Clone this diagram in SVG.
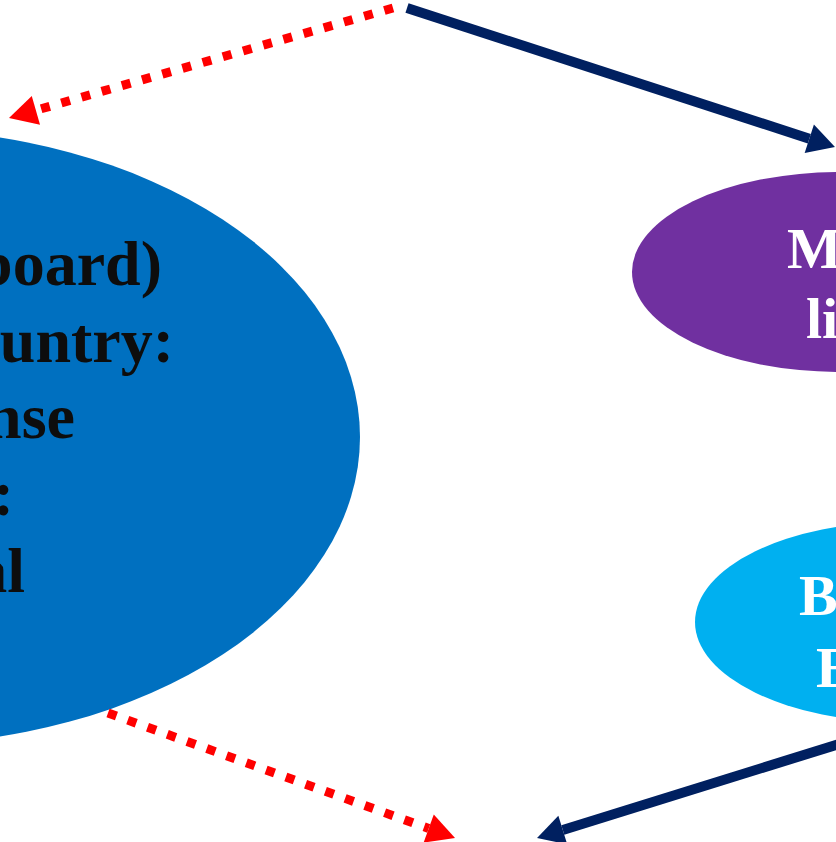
<svg xmlns="http://www.w3.org/2000/svg" width="836" height="842" viewBox="0 0 836 842">
<defs>
<style>
.lbl{font-family:"Liberation Serif","Times New Roman",serif;font-weight:bold}
.dark{fill:#0d0d0d;font-size:64px}
.white{fill:#ffffff;font-size:58px}
.solid{stroke:#002060;stroke-width:10;fill:none}
.dotted{stroke:#ff0000;stroke-width:9;stroke-dasharray:9 12;fill:none}
</style>
<marker id="headNavy" markerUnits="userSpaceOnUse" markerWidth="28" markerHeight="30" refX="0" refY="15" orient="auto" overflow="visible">
<path d="M0,0 L27,15 L0,30 Z" fill="#002060"/>
</marker>
<marker id="headRed" markerUnits="userSpaceOnUse" markerWidth="28" markerHeight="30" refX="0" refY="15" orient="auto" overflow="visible">
<path d="M0,0 L28,15 L0,30 Z" fill="#ff0000"/>
</marker>
</defs>
<rect width="836" height="842" fill="#ffffff"/>
<g id="node-blue">
<ellipse cx="-110" cy="437" rx="470" ry="308" fill="#0070c0"/>
<text class="lbl dark" text-anchor="end" x="162" y="285">board)</text>
<text class="lbl dark" text-anchor="end" x="174" y="362">ountry:</text>
<text class="lbl dark" text-anchor="end" x="75" y="438">nse</text>
<text class="lbl dark" text-anchor="end" x="14" y="515">:</text>
<text class="lbl dark" text-anchor="end" x="25" y="592">al</text>
</g>
<g id="node-purple">
<ellipse cx="840" cy="272" rx="208" ry="100" fill="#7030a0"/>
<text class="lbl white" x="787" y="268">M</text>
<text class="lbl white" x="806" y="338">li</text>
</g>
<g id="node-cyan">
<ellipse cx="901" cy="622" rx="206" ry="100" fill="#00b0f0"/>
<text class="lbl white" x="799" y="615">B</text>
<text class="lbl white" x="816" y="687">E</text>
</g>
<g id="connectors">
<line class="solid" x1="407" y1="8" x2="809.3" y2="138.7" marker-end="url(#headNavy)"/>
<line class="solid" x1="860" y1="737.5" x2="562.8" y2="830" marker-end="url(#headNavy)"/>
<line class="dotted" x1="393" y1="8" x2="35.9" y2="110.3" marker-end="url(#headRed)"/>
<line class="dotted" x1="108" y1="713" x2="428.7" y2="828.5" marker-end="url(#headRed)"/>
</g>
</svg>
